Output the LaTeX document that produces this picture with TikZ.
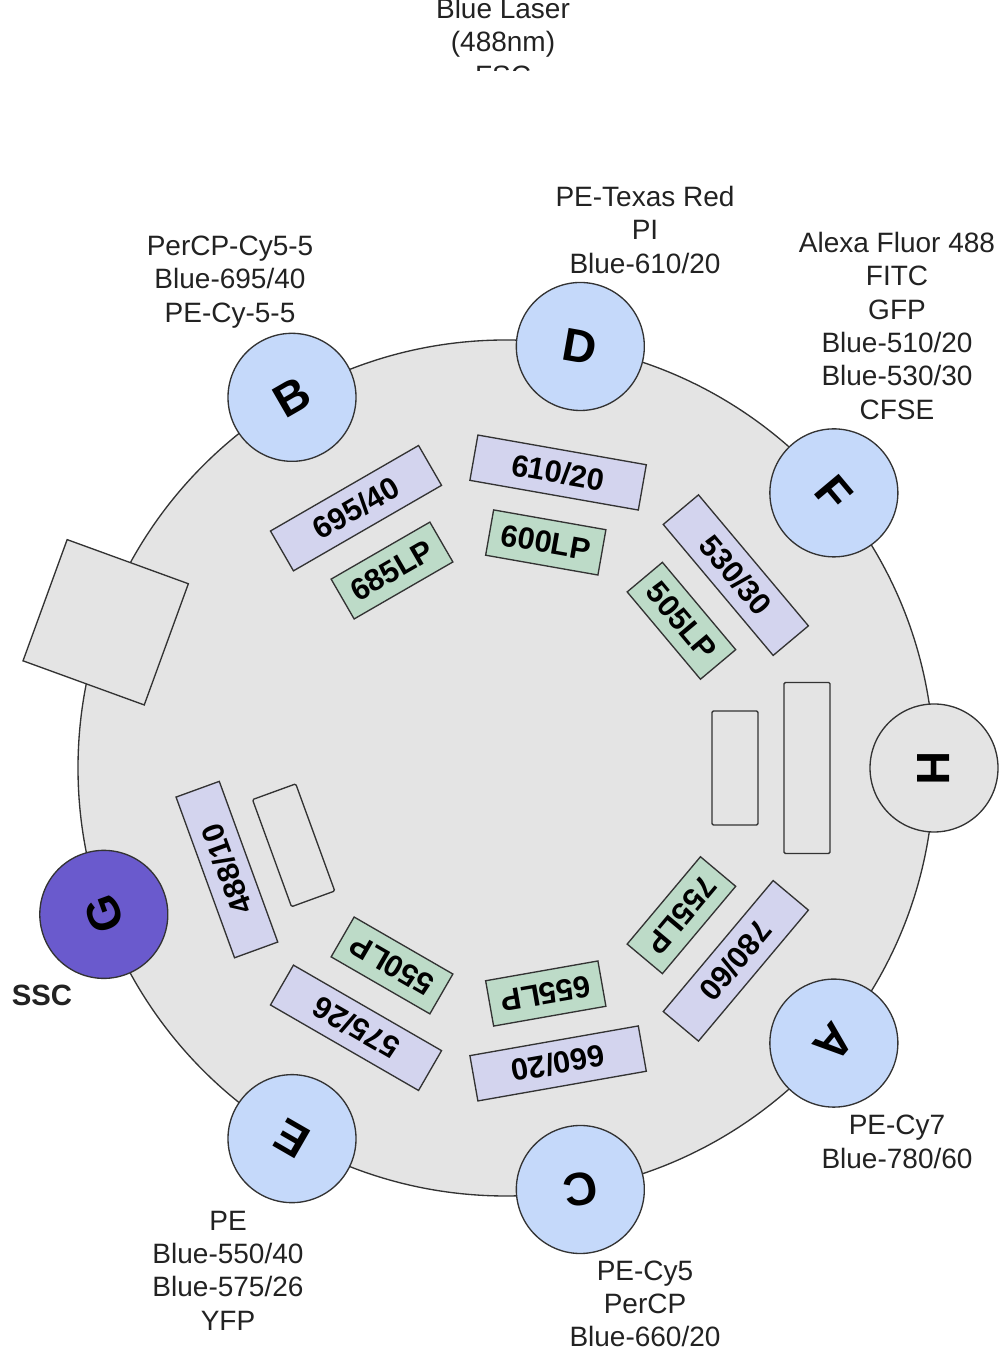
\documentclass[tikz,border=0pt]{standalone}
\usepackage{fontspec}
\setmainfont{Liberation Sans}
\usetikzlibrary{calc}
\definecolor{bigc}{HTML}{E4E4E4}
\definecolor{lavc}{HTML}{D3D4EE}
\definecolor{grnc}{HTML}{BDDBC8}
\definecolor{bluec}{HTML}{C5D9FA}
\definecolor{purc}{HTML}{6A5ACD}
\definecolor{inkc}{HTML}{222222}
\begin{document}
\begin{tikzpicture}[x=0.75pt,y=0.75pt,
 frame/.style={draw=black!80, line width=1pt},
 lav/.style={frame, fill=lavc, minimum width=128.25pt, minimum height=34.5pt, inner sep=0pt, font=\bfseries\fontsize{23}{26}\selectfont},
 grn/.style={lav, fill=grnc, minimum width=85.5pt},
 emptybig/.style={frame, fill=bigc, rounded corners=1pt, minimum width=128.25pt, minimum height=34.5pt, inner sep=0pt},
 emptysmall/.style={emptybig, minimum width=85.5pt},
 det/.style={circle, frame, fill=bluec, minimum size=96pt, inner sep=0pt, font=\bfseries\fontsize{35}{40}\selectfont},
 lbl/.style={align=center, text=inkc, font=\fontsize{21}{25}\selectfont, inner sep=0pt}
]
\useasboundingbox (0,0) rectangle (1005,1358);
\coordinate (O) at (506,590);
\draw[frame, fill=bigc] (O) circle (428);
\node[frame, fill=bigc, minimum size=96.75pt, inner sep=0pt, rotate=-20] (sq) at ($(O)+(160:426)$) {};
% detectors
\node[det, rotate=30] (B) at ($(O)+(120:428)$) {B};
\node[det, rotate=-10] (D) at ($(O)+(80:428)$) {D};
\node[det, rotate=-50] (F) at ($(O)+(40:428)$) {F};
\node[det, fill=bigc, rotate=-90] (H) at ($(O)+(0:428)$) {H};
\node[det, rotate=-130] (A) at ($(O)+(-40:428)$) {A};
\node[det, rotate=-170] (Cd) at ($(O)+(-80:428)$) {C};
\node[det, rotate=-210] (E) at ($(O)+(-120:428)$) {E};
\node[det, fill=purc, rotate=-250] (G) at ($(O)+(-160:428)$) {G};
% filters
\node[lav, rotate=30] (f695) at ($(O)+(120:300)$) {695/40};
\node[grn, rotate=30] (f685) at ($(O)+(120:228)$) {685LP};
\node[lav, rotate=-10] (f610) at ($(O)+(80:300)$) {610/20};
\node[grn, rotate=-10] (f600) at ($(O)+(80:229)$) {600LP};
\node[lav, rotate=-50] (f530) at ($(O)+(40:300)$) {530/30};
\node[grn, rotate=-50] (f505) at ($(O)+(40:229)$) {505LP};
\node[emptybig, rotate=-90] (h1) at ($(O)+(0:301)$) {};
\node[emptysmall, rotate=-90] (h2) at ($(O)+(0:229)$) {};
\node[lav, rotate=-130] (f780) at ($(O)+(-40:300)$) {780/60};
\node[grn, rotate=-130] (f755) at ($(O)+(-40:229)$) {755LP};
\node[lav, rotate=-170] (f660) at ($(O)+(-80:300)$) {660/20};
\node[grn, rotate=-170] (f655) at ($(O)+(-80:229)$) {655LP};
\node[lav, rotate=-210] (f575) at ($(O)+(-120:300)$) {575/26};
\node[grn, rotate=-210] (f550) at ($(O)+(-120:228)$) {550LP};
\node[lav, rotate=-250] (f488) at ($(O)+(-160:297)$) {488/10};
\node[emptysmall, rotate=-250] (g1) at ($(O)+(-160:226)$) {};
% labels
\node[lbl] (lB) at (230,1076) {PerCP-Cy5-5\\Blue-695/40\\PE-Cy-5-5};
\node[lbl] (lD) at (645,1128) {PE-Texas Red\\PI\\Blue-610/20};
\node[lbl] (lF) at (897,1032) {Alexa Fluor 488\\FITC\\GFP\\Blue-510/20\\Blue-530/30\\CFSE};
\node[lbl] (lA) at (897,216) {PE-Cy7\\Blue-780/60};
\node[lbl] (lC) at (645,54) {PE-Cy5\\PerCP\\Blue-660/20};
\node[lbl] (lE) at (228,87.5) {PE\\Blue-550/40\\Blue-575/26\\YFP};
\node[lbl, font=\bfseries\fontsize{22}{25}\selectfont] (ssc) at (42,363) {SSC};
\begin{scope}
\clip (0,1287) rectangle (1005,1358);
\node[lbl] (laser) at (503,1316) {Blue Laser\\(488nm)\\FSC};
\end{scope}
\end{tikzpicture}
\end{document}
